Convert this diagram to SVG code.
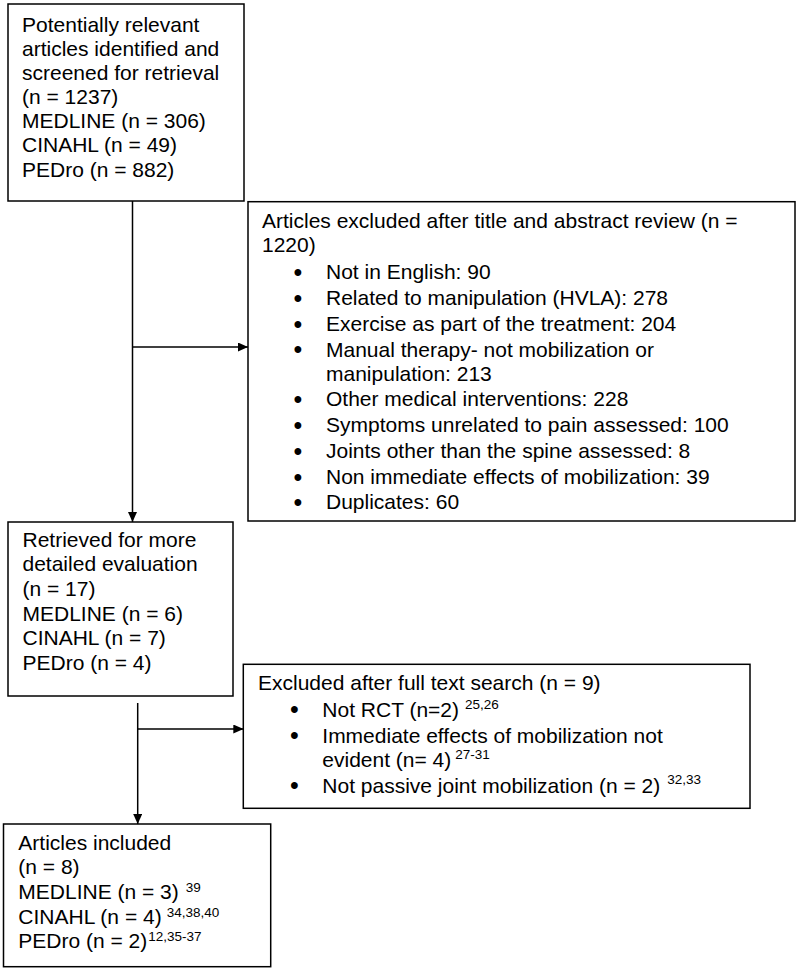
<svg xmlns="http://www.w3.org/2000/svg" width="800" height="972" viewBox="0 0 800 972">
<style>
.box{fill:#fff;stroke:#000;stroke-width:1.5}
.t{font-family:"Liberation Sans",Arial,sans-serif;font-size:21px;fill:#000}
.b{font-family:"Liberation Sans",Arial,sans-serif;font-size:25px;fill:#000;text-anchor:middle}
.sup{font-size:13.5px}
.ln{stroke:#000;stroke-width:1.5;fill:none}
</style>
<defs>
<marker id="ah" markerWidth="10" markerHeight="9" refX="10" refY="4.5" orient="auto" markerUnits="userSpaceOnUse"><path d="M0,0 L10,4.5 L0,9 z" fill="#000"/></marker>
</defs>
<rect width="800" height="972" fill="#fff"/>
<g id="connectors">
<line class="ln" x1="132.5" y1="201" x2="132.5" y2="522" marker-end="url(#ah)"/>
<line class="ln" x1="132.5" y1="347" x2="248" y2="347" marker-end="url(#ah)"/>
<line class="ln" x1="137.7" y1="703" x2="137.7" y2="824" marker-end="url(#ah)"/>
<line class="ln" x1="137.7" y1="729" x2="243.3" y2="729" marker-end="url(#ah)"/>
</g>
<g id="identified">
<rect class="box" x="8" y="4" width="236" height="197"/>
<text class="t" x="22"><tspan x="22" y="31.7">Potentially relevant</tspan><tspan x="22" y="55.8">articles identified and</tspan><tspan x="22" y="80">screened for retrieval</tspan><tspan x="22" y="104.1">(n = 1237)</tspan><tspan x="22" y="128.3">MEDLINE (n = 306)</tspan><tspan x="22" y="152.4">CINAHL (n = 49)</tspan><tspan x="22" y="176.6">PEDro (n = 882)</tspan></text>
</g>
<g id="excluded-title">
<rect class="box" x="248" y="201.7" width="547" height="319.3"/>
<text class="t"><tspan x="262" y="227.5">Articles excluded after title and abstract review (n =</tspan><tspan x="262" y="252.3">1220)</tspan></text>
<text class="b"><tspan x="298" y="281">•</tspan><tspan x="298" y="306.8">•</tspan><tspan x="298" y="332.5">•</tspan><tspan x="298" y="358.3">•</tspan><tspan x="298" y="408.2">•</tspan><tspan x="298" y="434">•</tspan><tspan x="298" y="459.7">•</tspan><tspan x="298" y="485.5">•</tspan><tspan x="298" y="511.2">•</tspan></text>
<text class="t"><tspan x="326" y="279.3">Not in English: 90</tspan><tspan x="326" y="305">Related to manipulation (HVLA): 278</tspan><tspan x="326" y="330.8">Exercise as part of the treatment: 204</tspan><tspan x="326" y="356.5">Manual therapy- not mobilization or</tspan><tspan x="326" y="380.7">manipulation: 213</tspan><tspan x="326" y="406.4">Other medical interventions: 228</tspan><tspan x="326" y="432.2">Symptoms unrelated to pain assessed: 100</tspan><tspan x="326" y="457.9">Joints other than the spine assessed: 8</tspan><tspan x="326" y="483.7">Non immediate effects of mobilization: 39</tspan><tspan x="326" y="509.4">Duplicates: 60</tspan></text>
</g>
<g id="retrieved">
<rect class="box" x="8" y="522" width="225" height="174"/>
<text class="t"><tspan x="22.5" y="546.7">Retrieved for more</tspan><tspan x="22.5" y="571.3">detailed evaluation</tspan><tspan x="22.5" y="596">(n = 17)</tspan><tspan x="22.5" y="620.7">MEDLINE (n = 6)</tspan><tspan x="22.5" y="645.3">CINAHL (n = 7)</tspan><tspan x="22.5" y="670">PEDro (n = 4)</tspan></text>
</g>
<g id="excluded-fulltext">
<rect class="box" x="243.3" y="664.3" width="506.7" height="144"/>
<text class="t" x="258" y="690">Excluded after full text search (n = 9)</text>
<text class="b"><tspan x="294.3" y="718.3">•</tspan><tspan x="294.3" y="744.3">•</tspan><tspan x="294.3" y="794.3">•</tspan></text>
<text class="t"><tspan x="322.3" y="716.5">Not RCT (n=2)</tspan><tspan class="sup" dx="6" dy="-8">25,26</tspan><tspan x="322.3" y="742.5">Immediate effects of mobilization not</tspan><tspan x="322.3" y="766.5">evident (n= 4)</tspan><tspan class="sup" dx="4" dy="-8">27-31</tspan><tspan x="322.3" y="792.5">Not passive joint mobilization (n = 2)</tspan><tspan class="sup" dx="7" dy="-8.5">32,33</tspan></text>
</g>
<g id="included">
<rect class="box" x="3.5" y="824" width="267.2" height="142.7"/>
<text class="t"><tspan x="18.3" y="850">Articles included</tspan><tspan x="18.3" y="874.3">(n = 8)</tspan><tspan x="18.3" y="899.3">MEDLINE (n = 3)</tspan><tspan class="sup" dx="7" dy="-7.5">39</tspan><tspan x="18.3" y="924.3">CINAHL (n = 4)</tspan><tspan class="sup" dx="5" dy="-7.5">34,38,40</tspan><tspan x="18.3" y="948.3">PEDro (n = 2)</tspan><tspan class="sup" dx="1" dy="-7.5">12,35-37</tspan></text>
</g>
</svg>
